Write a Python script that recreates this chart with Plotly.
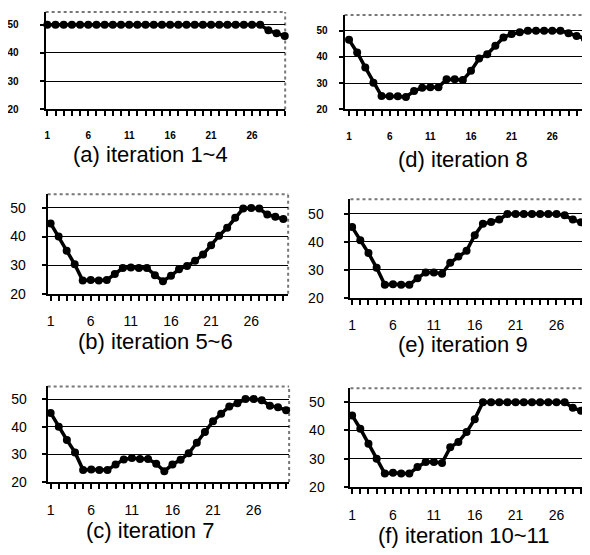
import plotly.graph_objects as go

x_points = list(range(1, 31))
tick_labels = ["1", "6", "11", "16", "21", "26"]
y_ticks = [20, 30, 40, 50]

series_a = [50, 50, 50, 50, 50, 50, 50, 50, 50, 50, 50, 50, 50, 50, 50, 50, 50, 50, 50, 50, 50, 50, 50, 50, 50, 50, 50, 48, 47, 46]
series_b = [44.6, 40, 35, 30.3, 24.6, 24.8, 24.6, 24.8, 26.9, 29, 29.2, 29, 29, 26.5, 24.4, 26.3, 28.6, 29.7, 31.5, 33.7, 37, 40.3, 43.1, 46.6, 49.8, 50, 49.8, 47.7, 46.9, 46.1]
series_c = [45, 40, 35.2, 30.7, 24.3, 24.5, 24.3, 24.3, 26.3, 28.1, 28.7, 28.3, 28.3, 26.6, 23.9, 26.3, 28, 30.4, 34.2, 38.1, 42, 44.7, 47.3, 48.5, 50, 50, 49.6, 47.6, 47, 46]
series_d = [46.5, 41.7, 36, 30.2, 25.1, 25, 25, 24.8, 27, 28.3, 28.5, 28.5, 31.5, 31.5, 31.2, 34.7, 39.4, 41, 44.3, 47.4, 48.7, 49.4, 50, 50, 50, 50, 50, 49, 48, 47]
series_e = [45.3, 40.6, 36, 30.7, 24.6, 24.8, 24.6, 24.6, 27, 29, 29, 28.6, 32.5, 34.8, 36.8, 42.4, 46.5, 47.1, 48, 50, 50, 50, 50, 50, 50, 50, 49.5, 48, 47, 46]
series_f = [45.3, 40.6, 35.3, 30, 24.7, 25, 24.7, 24.7, 27, 28.8, 28.8, 28.5, 34, 35.9, 39.4, 44, 50, 50, 50, 50, 50, 50, 50, 50, 50, 50, 50, 48, 47, 46]

captions = ["(a) iteration 1~4", "(d) iteration 8", "(b) iteration 5~6",
            "(e) iteration 9", "(c) iteration 7", "(f) iteration 10~11"]
all_series = [series_a, series_d, series_b, series_e, series_c, series_f]

OFF = 8  # default page margin of the html body
W, H = 590 - OFF, 555 - OFF


def fx(px):
    return (px - OFF) / W


def fy(py):
    return 1 - (py - OFF) / H


panels = [
    dict(box=(40, 282, 12, 111), ytop=54.5, xr=(0.8, 30.05), small=True, cap=(146, 157), ystand=19, xstand=11),
    dict(box=(342, 588, 15, 111), ytop=56, xr=(0.45, 30.4), small=True, cap=(462, 162), ystand=9, xstand=12),
    dict(box=(42, 285, 197, 298), ytop=54.8, xr=(0.63, 30.6), small=False, cap=(151, 346), ystand=13, xstand=8),
    dict(box=(348, 590, 202, 302), ytop=55.3, xr=(0.8, 30.1), small=False, cap=(462, 349), ystand=18, xstand=8),
    dict(box=(42, 286, 392, 489), ytop=54.6, xr=(0.63, 30.37), small=False, cap=(145, 538), ystand=12, xstand=9),
    dict(box=(348, 590, 394, 494), ytop=54.9, xr=(0.8, 30.1), small=False, cap=(462, 543), ystand=17, xstand=9),
]

fig = go.Figure()
layout = dict(width=W, height=H, margin=dict(l=0, r=0, t=0, b=0),
              paper_bgcolor="white", plot_bgcolor="white", showlegend=False,
              font=dict(family="Liberation Sans, Arial", color="black"))
shapes = []
annotations = []
tick_text = [str(v) if str(v) in tick_labels else "" for v in x_points]
fam = "Liberation Sans, Arial"
border = dict(color="#777777", width=2, dash="dot")

for i, (p, ys) in enumerate(zip(panels, all_series)):
    n = "" if i == 0 else str(i + 1)
    l, r, t, b = p["box"]
    fsz = 10 if p["small"] else 14
    tf = dict(size=fsz, family=fam, color="black", weight="bold" if p["small"] else "normal")
    layout["xaxis" + n] = dict(
        domain=[fx(l), min(1.0, fx(r))], anchor="y" + n, range=list(p["xr"]),
        tickmode="array", tickvals=x_points, ticktext=tick_text,
        ticks="outside", ticklen=5, tickwidth=1.5, tickcolor="black",
        showline=True, linecolor="black", linewidth=2, showgrid=False,
        zeroline=False, tickfont=tf, ticklabelstandoff=p["xstand"], fixedrange=True)
    layout["yaxis" + n] = dict(
        domain=[fy(b), fy(t)], anchor="x" + n, range=[20, p["ytop"]],
        tickmode="array", tickvals=y_ticks, ticks="outside", ticklen=4,
        tickwidth=1.5, tickcolor="black",
        showline=True, linecolor="black", linewidth=2, showgrid=True,
        gridcolor="black", gridwidth=1, zeroline=False, tickfont=tf,
        ticklabelstandoff=p["ystand"], fixedrange=True)
    xd, yd = "x" + n + " domain", "y" + n + " domain"
    shapes.append(dict(type="line", xref=xd, yref=yd, x0=0, x1=1, y0=1, y1=1,
                       line=border, layer="below"))
    shapes.append(dict(type="line", xref=xd, yref=yd, x0=1, x1=1, y0=0, y1=1,
                       line=border, layer="below"))
    fig.add_trace(go.Scatter(x=x_points, y=ys, mode="lines+markers",
                             xaxis="x" + n, yaxis="y" + n,
                             line=dict(color="black", width=3.5),
                             marker=dict(color="black", size=8, symbol="circle"),
                             cliponaxis=False))
    cx, cy = p["cap"]
    annotations.append(dict(text=captions[i], xref="paper", yref="paper",
                            x=fx(cx), y=fy(cy), xanchor="center", yanchor="middle",
                            showarrow=False, font=dict(size=22, family=fam, color="black")))

layout["shapes"] = shapes
layout["annotations"] = annotations
fig.update_layout(**layout)
fig.write_html("out.html")
